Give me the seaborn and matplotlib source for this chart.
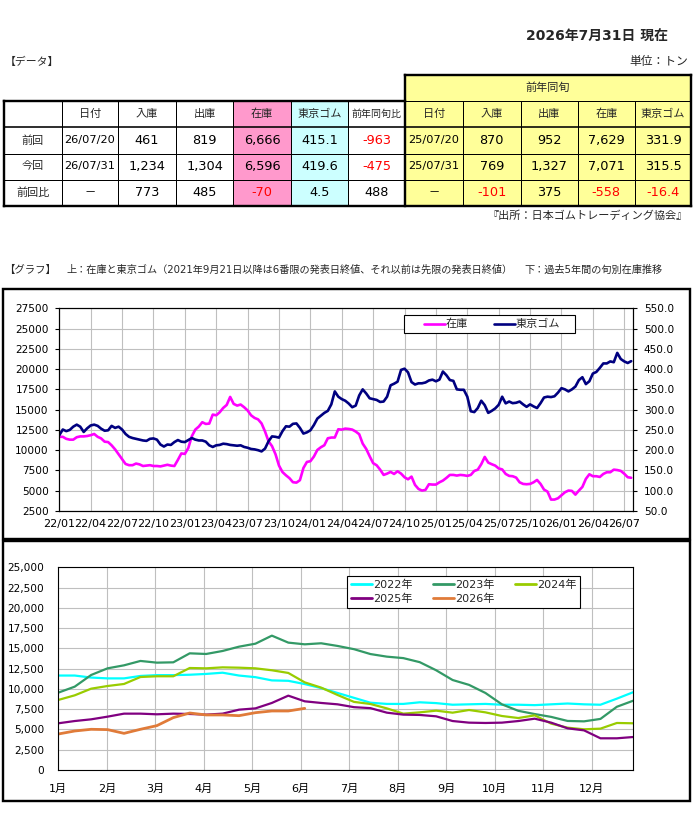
import numpy as np
import pandas as pd
import matplotlib
matplotlib.use("Agg")
import matplotlib.pyplot as plt
import seaborn as sns
from matplotlib.lines import Line2D
from matplotlib.patches import Rectangle
from matplotlib.ticker import MultipleLocator, FuncFormatter

# ---------------- data ----------------
as_of_title = "2026年7月31日 現在"
unit_label = "単位：トン"
source_label = "『出所：日本ゴムトレーディング協会』"
data_heading = "【データ】"
graph_heading = "【グラフ】"
graph_note_upper = "上：在庫と東京ゴム（2021年9月21日以降は6番限の発表日終値、それ以前は先限の発表日終値）"
graph_note_lower = "下：過去5年間の旬別在庫推移"

row_labels = ["前回", "今回", "前回比"]
cur_headers = ["日付", "入庫", "出庫", "在庫", "東京ゴム", "前年同旬比"]
cur_dates = ["26/07/20", "26/07/31", "－"]
cur_in = ["461", "1,234", "773"]
cur_out = ["819", "1,304", "485"]
cur_stock = ["6,666", "6,596", "-70"]
cur_rubber = ["415.1", "419.6", "4.5"]
cur_yoy = ["-963", "-475", "488"]

prev_group_title = "前年同旬"
prev_headers = ["日付", "入庫", "出庫", "在庫", "東京ゴム"]
prev_dates = ["25/07/20", "25/07/31", "－"]
prev_in = ["870", "769", "-101"]
prev_out = ["952", "1,327", "375"]
prev_stock = ["7,629", "7,071", "-558"]
prev_rubber = ["331.9", "315.5", "-16.4"]

years = ["2022年", "2023年", "2024年", "2025年", "2026年"]

# 旬別在庫 (t): 36 values per year (上・中・下旬 x 12 months)
stock_2022 = [11650, 11650, 11400, 11300, 11300, 11600, 11700, 11700, 11750, 11850, 12000, 11650,
              11450, 11050, 11000, 10600, 10100, 9500, 8900, 8300, 8150, 8150, 8350, 8250,
              8050, 8100, 8150, 8050, 8050, 8000, 8100, 8200, 8100, 8050, 8800, 9600]
stock_2023 = [9540, 10280, 11720, 12540, 12910, 13450, 13240, 13280, 14390, 14310, 14680, 15210,
              15580, 16570, 15710, 15500, 15630, 15300, 14900, 14300, 13980, 13800, 13300, 12300,
              11100, 10500, 9500, 8100, 7300, 6900, 6550, 6050, 6000, 6300, 7800, 8550]
stock_2024 = [8640, 9210, 10030, 10360, 10610, 11470, 11560, 11560, 12580, 12540, 12660, 12620,
              12540, 12300, 11970, 10810, 10160, 9250, 8400, 8140, 7600, 6950, 7110, 7320,
              7070, 7400, 7110, 6660, 6410, 6740, 5720, 5220, 5020, 5100, 5800, 5760]
stock_2025 = [5760, 6040, 6250, 6580, 6950, 6950, 6870, 6950, 6910, 6830, 6950, 7440,
              7600, 8270, 9170, 8470, 8270, 8100, 7750, 7629, 7071, 6830, 6790, 6620,
              6040, 5840, 5800, 5840, 6040, 6330, 5840, 5140, 4890, 3910, 3910, 4070]
stock_2026 = [4440, 4810, 5020, 4980, 4520, 5020, 5470, 6460, 7030, 6790, 6790, 6700,
              7070, 7280, 7280, 7600, 7550, 7450, 7100, 6666, 6596]
lower_2026_shown = 16   # the lower chart shows 2026 only up to 6月上旬

# 東京ゴム (円/kg), same 旬 timing
rubber_2022 = [237, 251, 247, 250, 258, 263, 258, 245, 254, 261, 263, 260,
               253, 248, 249, 260, 255, 258, 251, 240, 233, 230, 228, 226,
               224, 223, 228, 229, 226, 214, 209, 214, 213, 220, 225, 221]
rubber_2023 = [220, 225, 230, 226, 224, 224, 221, 212, 208, 212, 213, 216,
               215, 213, 212, 211, 212, 208, 206, 203, 202, 200, 197, 204,
               222, 234, 233, 231, 247, 259, 258, 265, 266, 255, 241, 244]
rubber_2024 = [249, 262, 278, 285, 292, 297, 313, 345, 332, 326, 322, 315,
               306, 310, 335, 350, 340, 328, 326, 324, 319, 320, 332, 360,
               364, 369, 398, 401, 392, 368, 362, 365, 365, 367, 372, 374]
rubber_2025 = [370, 374, 394, 385, 373, 371, 350, 349, 349, 332, 296, 294,
               304, 322, 311, 292, 297, 303, 312, 331.9, 315.5, 320, 316, 317,
               320, 313, 307, 313, 308, 304, 316, 330, 332, 331, 333, 342]
rubber_2026 = [353, 350, 345, 350, 357, 373, 380, 363, 370, 389, 393, 403,
               414, 414, 419, 417, 440, 425, 419, 415.1, 419.6]

quarter_labels = ["22/01", "22/04", "22/07", "22/10", "23/01", "23/04", "23/07", "23/10",
                  "24/01", "24/04", "24/07", "24/10", "25/01", "25/04", "25/07", "25/10",
                  "26/01", "26/04", "26/07"]
month_labels = ["1月", "2月", "3月", "4月", "5月", "6月", "7月", "8月", "9月", "10月", "11月", "12月"]

# ---------------- style ----------------
sns.set_theme(style="white")
plt.rcParams["font.family"] = ["DejaVu Sans", "Noto Sans CJK JP"]
plt.rcParams["axes.unicode_minus"] = False

W, H = 696, 819
fig = plt.figure(figsize=(W / 100, H / 100), dpi=100)
fig.patch.set_facecolor("white")

bg = fig.add_axes([0, 0, 1, 1])
bg.set_xlim(0, W)
bg.set_ylim(H, 0)
bg.axis("off")

PX = 0.72  # points per pixel
RED = "#FF0000"
PINK_CELL = "#FF99CC"
CYAN_CELL = "#CCFFFF"
YELLOW_CELL = "#FFFF99"

# headings
bg.text(668, 37, as_of_title, ha="right", va="center", fontsize=10, fontweight="bold")
bg.text(5, 62, data_heading, ha="left", va="center", fontsize=7.8)
bg.text(688, 62, unit_label, ha="right", va="center", fontsize=8.5)
bg.text(688, 216, source_label, ha="right", va="center", fontsize=8)
bg.text(4, 270, graph_heading, ha="left", va="center", fontsize=7.5)
bg.text(66, 270, graph_note_upper, ha="left", va="center", fontsize=7.3)
bg.text(663, 270, graph_note_lower, ha="right", va="center", fontsize=7.3)

# ---------------- table ----------------
cols_l = [4, 61.7, 118.3, 175.7, 233.3, 290.7, 348.3, 405]
cols_r = [405, 462.7, 520.7, 577.7, 635, 691]
rows_y = [101, 127, 153.5, 179.5, 205.5]
top_r = 75

bg.add_patch(Rectangle((cols_l[4], rows_y[0]), cols_l[5] - cols_l[4], rows_y[-1] - rows_y[0],
                       facecolor=PINK_CELL, edgecolor="none"))
bg.add_patch(Rectangle((cols_l[5], rows_y[0]), cols_l[6] - cols_l[5], rows_y[-1] - rows_y[0],
                       facecolor=CYAN_CELL, edgecolor="none"))
bg.add_patch(Rectangle((cols_r[0], top_r), cols_r[-1] - cols_r[0], rows_y[-1] - top_r,
                       facecolor=YELLOW_CELL, edgecolor="none"))

thin = 1.0 * PX
thick = 2.4 * PX
for y in rows_y[2:4]:
    bg.plot([cols_l[0], cols_r[-1]], [y, y], color="black", lw=thin)
bg.plot([cols_l[0], cols_r[-1]], [rows_y[1], rows_y[1]], color="black", lw=1.6 * PX)
bg.plot([cols_r[0], cols_r[-1]], [rows_y[0], rows_y[0]], color="black", lw=thin)
for x in cols_l[1:-1]:
    bg.plot([x, x], [rows_y[0], rows_y[-1]], color="black", lw=thin)
for x in cols_r[1:-1]:
    bg.plot([x, x], [rows_y[0], rows_y[-1]], color="black", lw=thin)
bg.plot([cols_l[0], cols_r[0]], [rows_y[0], rows_y[0]], color="black", lw=thick, solid_capstyle="projecting")
bg.plot([cols_r[0], cols_r[-1]], [top_r, top_r], color="black", lw=thick, solid_capstyle="projecting")
bg.plot([cols_l[0], cols_r[-1]], [rows_y[-1], rows_y[-1]], color="black", lw=thick, solid_capstyle="projecting")
bg.plot([cols_l[0], cols_l[0]], [rows_y[0], rows_y[-1]], color="black", lw=thick, solid_capstyle="projecting")
bg.plot([cols_r[0], cols_r[0]], [top_r, rows_y[-1]], color="black", lw=thick, solid_capstyle="projecting")
bg.plot([cols_r[-1], cols_r[-1]], [top_r, rows_y[-1]], color="black", lw=thick, solid_capstyle="projecting")

def cx(cols, i):
    return (cols[i] + cols[i + 1]) / 2

row_cy = [(rows_y[i] + rows_y[i + 1]) / 2 for i in range(4)]

def val_text(x, y, s, size=9.3):
    color = RED if s.startswith("-") else "black"
    bg.text(x, y, s, ha="center", va="center", fontsize=size, color=color)

for j, h in enumerate(cur_headers):
    bg.text(cx(cols_l, j + 1), row_cy[0], h, ha="center", va="center",
            fontsize=7.2 if j == 5 else 8)
for j, h in enumerate(prev_headers):
    bg.text(cx(cols_r, j), row_cy[0], h, ha="center", va="center", fontsize=8)
bg.text((cols_r[0] + cols_r[-1]) / 2, (top_r + rows_y[0]) / 2, prev_group_title,
        ha="center", va="center", fontsize=8)

for i in range(3):
    y = row_cy[i + 1]
    bg.text(cx(cols_l, 0), y, row_labels[i], ha="center", va="center", fontsize=8)
    val_text(cx(cols_l, 1), y, cur_dates[i], 8.2)
    val_text(cx(cols_l, 2), y, cur_in[i])
    val_text(cx(cols_l, 3), y, cur_out[i])
    val_text(cx(cols_l, 4), y, cur_stock[i])
    val_text(cx(cols_l, 5), y, cur_rubber[i])
    val_text(cx(cols_l, 6), y, cur_yoy[i])
    val_text(cx(cols_r, 0), y, prev_dates[i], 8.2)
    val_text(cx(cols_r, 1), y, prev_in[i])
    val_text(cx(cols_r, 2), y, prev_out[i])
    val_text(cx(cols_r, 3), y, prev_stock[i])
    val_text(cx(cols_r, 4), y, prev_rubber[i])

# chart frames
bg.add_patch(Rectangle((3, 289), 687, 250, facecolor="none", edgecolor="black", lw=2.4 * PX))
bg.add_patch(Rectangle((3, 541), 687, 260, facecolor="none", edgecolor="black", lw=2.4 * PX))

GRID = "#BFBFBF"

def style_axes(ax):
    for s in ax.spines.values():
        s.set_visible(True)
        s.set_color("black")
        s.set_linewidth(0.8)

# ---------------- upper chart ----------------
stock_all = stock_2022 + stock_2023 + stock_2024 + stock_2025 + stock_2026
rubber_all = rubber_2022 + rubber_2023 + rubber_2024 + rubber_2025 + rubber_2026
df_top = pd.DataFrame({"jun": np.arange(len(stock_all)), "stock": stock_all, "rubber": rubber_all})

ax1 = fig.add_axes([59.3 / W, 1 - 511 / H, 574 / W, 202.7 / H])
sns.lineplot(data=df_top, x="jun", y="stock", ax=ax1, color="#FF00FF", lw=1.9)
ax2 = ax1.twinx()
sns.lineplot(data=df_top, x="jun", y="rubber", ax=ax2, color="#000080", lw=1.9)

ax1.set_xlim(0, 164.6)
ax1.set_ylim(2500, 27500)
ax2.set_ylim(50, 550)
ax1.yaxis.set_major_locator(MultipleLocator(2500))
ax2.yaxis.set_major_locator(MultipleLocator(50))
ax1.yaxis.set_major_formatter(FuncFormatter(lambda v, p: f"{int(v)}"))
ax2.yaxis.set_major_formatter(FuncFormatter(lambda v, p: f"{v:.1f}"))
ax1.set_xticks(np.arange(len(quarter_labels)) * 9)
ax1.set_xticklabels(quarter_labels)
for ax in (ax1, ax2):
    ax.set_xlabel("")
    ax.set_ylabel("")
    style_axes(ax)
ax1.grid(True, color=GRID, lw=0.8)
ax2.grid(False)
ax1.set_axisbelow(True)
ax1.tick_params(axis="both", labelsize=7.6, length=3, width=0.8, direction="out", colors="black")
ax1.tick_params(axis="y", pad=4.6)
ax1.tick_params(axis="x", pad=3, labelsize=8)
ax2.tick_params(axis="y", labelsize=7.6, length=3, width=0.8, direction="out", colors="black", pad=4.6)

# upper legend (frame drawn separately)
ax2.add_patch(Rectangle((404.3 / W, 1 - 333.3 / H), 170.7 / W, 18.3 / H, transform=fig.transFigure,
                        facecolor="white", edgecolor="black", lw=0.8, zorder=4))
top_handles = [Line2D([0], [0], color="#FF00FF", lw=1.9), Line2D([0], [0], color="#000080", lw=1.9)]
leg1 = ax2.legend(top_handles, ["在庫", "東京ゴム"], ncol=2, loc="center",
                  bbox_to_anchor=(492 / W, 1 - 324.2 / H), bbox_transform=fig.transFigure,
                  frameon=False, fontsize=8, handlelength=1.9, handletextpad=0.1,
                  columnspacing=2.3, borderpad=0.1)
leg1.set_zorder(6)

# ---------------- lower chart ----------------
year_colors = {"2022年": "#00FFFF", "2023年": "#339966", "2024年": "#99CC00",
               "2025年": "#800080", "2026年": "#E07B39"}
year_widths = {"2022年": 1.6, "2023年": 1.6, "2024年": 1.6, "2025年": 1.6, "2026年": 2.0}
year_values = [stock_2022, stock_2023, stock_2024, stock_2025, stock_2026[:lower_2026_shown]]
recs = []
for name, vals in zip(years, year_values):
    for i, v in enumerate(vals):
        recs.append({"year": name, "jun": i, "stock": v})
df_low = pd.DataFrame(recs)

ax3 = fig.add_axes([58.3 / W, 1 - 770 / H, 575 / W, 202.7 / H])
for name in years:
    sns.lineplot(data=df_low[df_low["year"] == name], x="jun", y="stock", ax=ax3,
                 color=year_colors[name], lw=year_widths[name])
ax3.set_xlim(0, 35)
ax3.set_ylim(0, 25000)
ax3.yaxis.set_major_locator(MultipleLocator(2500))
ax3.yaxis.set_major_formatter(FuncFormatter(lambda v, p: f"{int(v):,}"))
month_pos = np.arange(len(month_labels)) * (48.5 / (575 / 35))
ax3.set_xticks(month_pos)
ax3.set_xticklabels(month_labels)
ax3.set_xlabel("")
ax3.set_ylabel("")
style_axes(ax3)
ax3.grid(True, color=GRID, lw=0.8)
ax3.set_axisbelow(True)
ax3.tick_params(axis="both", labelsize=7.6, length=3, width=0.8, direction="out", colors="black")
ax3.tick_params(axis="y", pad=7)
ax3.tick_params(axis="x", pad=7, labelsize=8)

# legend filled row-wise like the reference (matplotlib fills column-wise)
legend_order = ["2022年", "2025年", "2023年", "2026年", "2024年"]
low_handles = [Line2D([0], [0], color=year_colors[n], lw=2) for n in legend_order]
leg2 = ax3.legend(low_handles, legend_order, ncol=3, loc="upper left",
                  bbox_to_anchor=(347.3 / W, 1 - 576 / H), bbox_transform=fig.transFigure,
                  fontsize=8, handlelength=1.9, handletextpad=0.1, columnspacing=1.8,
                  borderpad=0.35, labelspacing=0.3, fancybox=False, framealpha=1,
                  borderaxespad=0)
leg2.get_frame().set_edgecolor("black")
leg2.get_frame().set_linewidth(0.8)

fig.savefig("out.png", dpi=100, facecolor="white")
